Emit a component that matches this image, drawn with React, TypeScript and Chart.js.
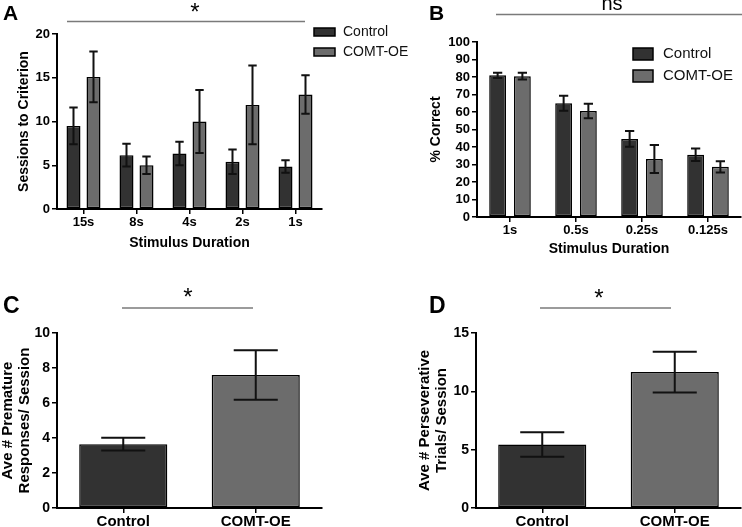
import React, { useEffect, useRef } from "react";
import { Chart, registerables } from "chart.js";

Chart.register(...registerables);

const FONT = '"Liberation Sans", Arial, Helvetica, sans-serif';
Chart.defaults.font.family = FONT;
Chart.defaults.color = "#000";

const CONTROL_COLOR = "#323232";
const COMT_COLOR = "#6c6c6c";

// ---------- Panel A : Sessions to criterion ----------
const aCategories = ["15s", "8s", "4s", "2s", "1s"];
const aControl = [9.5, 6.15, 6.35, 5.4, 4.85];
const aControlErr = [2.1, 1.3, 1.35, 1.4, 0.72];
const aComt = [15.1, 5.0, 10.0, 11.9, 13.1];
const aComtErr = [2.9, 1.0, 3.6, 4.5, 2.2];
const aYMax = 20;
const aYStep = 5;

// ---------- Panel B : % correct ----------
const bCategories = ["1s", "0.5s", "0.25s", "0.125s"];
const bControl = [81.0, 65.0, 44.6, 35.6];
const bControlErr = [1.5, 4.3, 4.5, 3.6];
const bComt = [80.5, 60.6, 33.2, 28.7];
const bComtErr = [1.9, 4.1, 8.0, 3.2];
const bYMax = 100;
const bYStep = 10;

// ---------- Panel C : premature responses ----------
const cCategories = ["Control", "COMT-OE"];
const cValues = [3.65, 7.6];
const cErr = [0.37, 1.42];
const cYMax = 10;
const cYStep = 2;

// ---------- Panel D : perseverative trials ----------
const dCategories = ["Control", "COMT-OE"];
const dValues = [5.45, 11.65];
const dErr = [1.05, 1.75];
const dYMax = 15;
const dYStep = 5;

const errorBarPlugin = {
  id: "errorBars",
  afterDatasetsDraw(chart: any, _args: any, opts: any) {
    const ctx = chart.ctx;
    const yScale = chart.scales.y;
    chart.data.datasets.forEach((ds: any, di: number) => {
      const errs = ds.errors;
      if (!errs) return;
      const meta = chart.getDatasetMeta(di);
      meta.data.forEach((bar: any, i: number) => {
        const v = ds.data[i];
        const e = errs[i];
        const yTop = yScale.getPixelForValue(v + e);
        const yBot = yScale.getPixelForValue(v - e);
        const { x, width } = bar.getProps(["x", "width"], true);
        const cap = (width * opts.capRatio) / 2;
        ctx.save();
        ctx.strokeStyle = "#111";
        ctx.lineWidth = opts.lineWidth;
        ctx.beginPath();
        ctx.moveTo(x, yTop);
        ctx.lineTo(x, yBot);
        ctx.moveTo(x - cap, yTop);
        ctx.lineTo(x + cap, yTop);
        ctx.moveTo(x - cap, yBot);
        ctx.lineTo(x + cap, yBot);
        ctx.stroke();
        ctx.restore();
      });
    });
  },
};

const annotPlugin = {
  id: "annot",
  afterDraw(chart: any, _args: any, o: any) {
    const ctx = chart.ctx;
    ctx.save();
    if (o.letter) {
      ctx.font = `bold ${o.letter.size}px ${FONT}`;
      ctx.fillStyle = "#000";
      ctx.textAlign = "left";
      ctx.textBaseline = "alphabetic";
      ctx.fillText(o.letter.text, o.letter.x, o.letter.y);
    }
    if (o.sig) {
      ctx.strokeStyle = "#7a7a7a";
      ctx.lineWidth = 1.5;
      ctx.beginPath();
      ctx.moveTo(o.sig.x1, o.sig.y);
      ctx.lineTo(o.sig.x2, o.sig.y);
      ctx.stroke();
      ctx.font = o.sig.font;
      ctx.fillStyle = "#000";
      ctx.textAlign = "center";
      ctx.textBaseline = "alphabetic";
      ctx.fillText(o.sig.text, o.sig.tx, o.sig.ty);
    }
    if (o.legend) {
      const L = o.legend;
      chart.data.datasets.forEach((ds: any, i: number) => {
        const by = L.y + i * L.gap;
        ctx.fillStyle = ds.backgroundColor;
        ctx.fillRect(L.x, by, L.boxW, L.boxH);
        ctx.strokeStyle = "#000";
        ctx.lineWidth = 1.5;
        ctx.strokeRect(L.x, by, L.boxW, L.boxH);
        ctx.fillStyle = "#111";
        ctx.font = `${L.size}px ${FONT}`;
        ctx.textAlign = "left";
        ctx.textBaseline = "middle";
        ctx.fillText(ds.label, L.textX, by + L.boxH / 2);
      });
    }
    ctx.restore();
  },
};

type Spec = {
  labels: string[];
  datasets: any[];
  yMax: number;
  yStep: number;
  width: number;
  height: number;
  area: { left: number; right: number; top: number; bottom: number };
  cp: number;
  bp: number;
  yTitle: string | string[];
  yTitleSize: number;
  yTitleLH: number;
  yTitlePad: number;
  xTitle?: string;
  xTitlePad?: number;
  xTickSize: number;
  yTickSize: number;
  xTickPad: number;
  capRatio: number;
  annot: any;
};

function buildConfig(s: Spec): any {
  const axisGrid = {
    display: true,
    drawOnChartArea: false,
    drawTicks: true,
    tickLength: 5,
    color: "#000",
    lineWidth: 1.5,
  };
  const axisBorder = { display: true, color: "#000", width: 2 };
  return {
    type: "bar",
    data: {
      labels: s.labels,
      datasets: s.datasets.map((d) => ({
        ...d,
        borderColor: "#000",
        borderWidth: 1.5,
        borderSkipped: false,
        categoryPercentage: s.cp,
        barPercentage: s.bp,
      })),
    },
    options: {
      responsive: false,
      animation: false,
      devicePixelRatio: 1,
      layout: {
        padding: {
          left: 0,
          top: s.area.top,
          right: s.width - s.area.right,
          bottom: 0,
        },
      },
      plugins: {
        legend: { display: false },
        tooltip: { enabled: false },
        errorBars: { capRatio: s.capRatio, lineWidth: 2 },
        annot: s.annot,
      },
      scales: {
        x: {
          type: "category",
          offset: true,
          ticks: {
            font: { size: s.xTickSize, weight: "bold" },
            padding: s.xTickPad,
            maxRotation: 0,
            autoSkip: false,
            color: "#000",
          },
          grid: { ...axisGrid, offset: false },
          border: axisBorder,
          title: s.xTitle
            ? {
                display: true,
                text: s.xTitle,
                font: { size: 14, weight: "bold", lineHeight: 1.2 },
                padding: { top: 0, bottom: s.xTitlePad ?? 0 },
                color: "#000",
              }
            : { display: false },
          afterFit: (scale: any) => {
            scale.height = s.height - s.area.bottom;
          },
        },
        y: {
          min: 0,
          max: s.yMax,
          ticks: {
            stepSize: s.yStep,
            autoSkip: false,
            font: { size: s.yTickSize, weight: "bold" },
            padding: 2,
            color: "#000",
          },
          grid: axisGrid,
          border: axisBorder,
          title: {
            display: true,
            text: s.yTitle,
            font: { size: s.yTitleSize, weight: "bold", lineHeight: s.yTitleLH },
            padding: { top: s.yTitlePad, bottom: 0 },
            color: "#000",
          },
          afterFit: (scale: any) => {
            scale.width = s.area.left;
          },
        },
      },
    },
    plugins: [errorBarPlugin, annotPlugin],
  };
}

function ChartCanvas(props: {
  left: number;
  top: number;
  width: number;
  height: number;
  spec: Spec;
}) {
  const ref = useRef<HTMLCanvasElement>(null);
  useEffect(() => {
    const chart = new Chart(ref.current as HTMLCanvasElement, buildConfig(props.spec));
    return () => chart.destroy();
  }, []);
  return (
    <canvas
      ref={ref}
      width={props.width}
      height={props.height}
      style={{
        position: "absolute",
        left: props.left,
        top: props.top,
        width: props.width,
        height: props.height,
      }}
    />
  );
}

const specA: Spec = {
  labels: aCategories,
  datasets: [
    { label: "Control", data: aControl, errors: aControlErr, backgroundColor: CONTROL_COLOR },
    { label: "COMT-OE", data: aComt, errors: aComtErr, backgroundColor: COMT_COLOR },
  ],
  yMax: aYMax,
  yStep: aYStep,
  width: 420,
  height: 260,
  area: { left: 57, right: 322, top: 34, bottom: 209 },
  cp: 0.755,
  bp: 0.7,
  yTitle: "Sessions to Criterion",
  yTitleSize: 14,
  yTitleLH: 1.2,
  yTitlePad: 16,
  xTitle: "Stimulus Duration",
  xTitlePad: 8.6,
  xTickSize: 13,
  yTickSize: 13,
  xTickPad: 1,
  capRatio: 0.6,
  annot: {
    letter: { text: "A", x: 3, y: 20, size: 21 },
    sig: { x1: 67, x2: 305, y: 21.5, text: "*", tx: 195, ty: 20, font: `24px ${FONT}` },
    legend: { x: 314, y: 28, gap: 20, boxW: 21, boxH: 8, textX: 343, size: 14 },
  },
};

const specB: Spec = {
  labels: bCategories,
  datasets: [
    { label: "Control", data: bControl, errors: bControlErr, backgroundColor: CONTROL_COLOR },
    { label: "COMT-OE", data: bComt, errors: bComtErr, backgroundColor: COMT_COLOR },
  ],
  yMax: bYMax,
  yStep: bYStep,
  width: 371,
  height: 260,
  area: { left: 106, right: 370, top: 42, bottom: 217 },
  cp: 0.75,
  bp: 0.68,
  yTitle: "% Correct",
  yTitleSize: 14,
  yTitleLH: 1.2,
  yTitlePad: 57,
  xTitle: "Stimulus Duration",
  xTitlePad: 2.6,
  xTickSize: 13,
  yTickSize: 13,
  xTickPad: 1,
  capRatio: 0.55,
  annot: {
    letter: { text: "B", x: 58, y: 19.5, size: 21 },
    sig: { x1: 125, x2: 371, y: 14.5, text: "ns", tx: 241, ty: 10, font: `20px ${FONT}` },
    legend: { x: 262, y: 48, gap: 22, boxW: 20, boxH: 12, textX: 292, size: 15 },
  },
};

const specC: Spec = {
  labels: cCategories,
  datasets: [
    {
      label: "Premature responses",
      data: cValues,
      errors: cErr,
      backgroundColor: [CONTROL_COLOR, COMT_COLOR],
    },
  ],
  yMax: cYMax,
  yStep: cYStep,
  width: 371,
  height: 267,
  area: { left: 57, right: 322, top: 73, bottom: 248 },
  cp: 1,
  bp: 0.665,
  yTitle: ["Ave # Premature", "Responses/ Session"],
  yTitleSize: 15,
  yTitleLH: 1.1,
  yTitlePad: 0,
  xTickSize: 15,
  yTickSize: 14,
  xTickPad: 0,
  capRatio: 0.5,
  annot: {
    letter: { text: "C", x: 3, y: 53, size: 23 },
    sig: { x1: 122, x2: 253, y: 48, text: "*", tx: 188, ty: 45, font: `24px ${FONT}` },
  },
};

const specD: Spec = {
  labels: dCategories,
  datasets: [
    {
      label: "Perseverative trials",
      data: dValues,
      errors: dErr,
      backgroundColor: [CONTROL_COLOR, COMT_COLOR],
    },
  ],
  yMax: dYMax,
  yStep: dYStep,
  width: 371,
  height: 267,
  area: { left: 105, right: 370, top: 73, bottom: 248 },
  cp: 1,
  bp: 0.665,
  yTitle: ["Ave # Perseverative", "Trials/ Session"],
  yTitleSize: 15,
  yTitleLH: 1.1,
  yTitlePad: 46,
  xTickSize: 15,
  yTickSize: 14,
  xTickPad: 0,
  capRatio: 0.5,
  annot: {
    letter: { text: "D", x: 58, y: 53, size: 23 },
    sig: { x1: 169, x2: 300, y: 48, text: "*", tx: 228, ty: 46, font: `24px ${FONT}` },
  },
};

export default function App() {
  return (
    <div
      style={{
        position: "absolute",
        left: 0,
        top: 0,
        width: 742,
        height: 527,
        background: "#fff",
        overflow: "hidden",
      }}
    >
      <ChartCanvas left={0} top={0} width={420} height={260} spec={specA} />
      <ChartCanvas left={371} top={0} width={371} height={260} spec={specB} />
      <ChartCanvas left={0} top={260} width={371} height={267} spec={specC} />
      <ChartCanvas left={371} top={260} width={371} height={267} spec={specD} />
    </div>
  );
}
